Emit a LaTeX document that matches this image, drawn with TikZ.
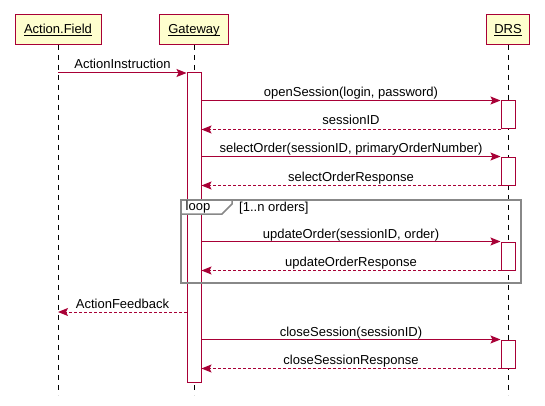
\documentclass[tikz,border=0pt]{standalone}
\usepackage{fontspec}
\setmainfont{Liberation Sans}
\usetikzlibrary{arrows.meta}
\definecolor{pcrim}{HTML}{A80036}
\definecolor{pfill}{HTML}{FEFECE}
\definecolor{pgray}{HTML}{888888}
\begin{document}
\begin{tikzpicture}[x=1pt,y=-1pt,
  font=\fontsize{13}{15}\selectfont,
  partbox/.style={draw=pcrim,fill=pfill,line width=1pt,inner sep=0pt},
  lifeline/.style={draw=black,line width=1pt,dash pattern=on 5pt off 5pt},
  actbox/.style={draw=pcrim,fill=white,line width=1pt,inner sep=0pt},
  msg/.style={draw=pcrim,line width=1pt,-{Stealth[length=10pt,width=8pt,inset=2pt]}},
  ret/.style={msg,dash pattern=on 3pt off 2pt},
  lbl/.style={anchor=base,inner sep=0pt,text=black},
  uline/.style={draw=black,line width=0.9pt},
  frame/.style={draw=pgray,line width=1.5pt}
]
\useasboundingbox (0,0) rectangle (545,406);
% lifelines
\coordinate (afTop) at (58,45); \coordinate (afBot) at (58,395);
\coordinate (gwTop) at (194,45); \coordinate (gwBot) at (194,395);
\coordinate (drTop) at (508,45); \coordinate (drBot) at (508,395);
\draw[lifeline] (afTop) -- (afBot);
\draw[lifeline] (gwTop) -- (gwBot);
\draw[lifeline] (drTop) -- (drBot);
% participants
\node[partbox,minimum width=86pt,minimum height=30pt] (af) at (58,30) {};
\node[lbl] (afl) at (58,34) {Action.Field};
\draw[uline] ([yshift=-1.6pt]afl.base west) -- ([yshift=-1.6pt]afl.base east);
\node[partbox,minimum width=69pt,minimum height=30pt] (gw) at (194,30) {};
\node[lbl] (gwl) at (194,34) {Gateway};
\draw[uline] ([yshift=-1.6pt]gwl.base west) -- ([yshift=-1.6pt]gwl.base east);
\node[partbox,minimum width=43pt,minimum height=30pt] (dr) at (508,30) {};
\node[lbl] (drl) at (508,34) {DRS};
\draw[uline] ([yshift=-1.6pt]drl.base west) -- ([yshift=-1.6pt]drl.base east);
% gateway activation
\node[actbox,minimum width=14pt,minimum height=309pt] (ga) at (194,227.5) {};
% DRS activations
\node[actbox,minimum width=14pt,minimum height=28pt] (d1) at (508,115) {};
\node[actbox,minimum width=14pt,minimum height=28pt] (d2) at (508,171) {};
\node[actbox,minimum width=14pt,minimum height=28pt] (d3) at (508,256) {};
\node[actbox,minimum width=14pt,minimum height=28pt] (d4) at (508,354) {};
% loop frame
\draw[frame] (181,200) rectangle (521,283);
\draw[frame,fill=white] (181,200) -- (232,200) -- (232,204) -- (222,214) -- (181,214) -- cycle;
\node[lbl] (lp) at (198,210) {loop};
\node[lbl,anchor=base west] (lpg) at (239,211) {[1..n orders]};
% messages
\coordinate (m1s) at (58,73);
\draw[msg] (m1s) -- (ga.west |- m1s);
\node[lbl] at (122.5,69) {ActionInstruction};
\draw[msg] (ga.east |- d1.north) -- (d1.north west);
\node[lbl] at (351,97) {openSession(login, password)};
\draw[ret] (d1.south west) -- (ga.east |- d1.south);
\node[lbl] at (351,125) {sessionID};
\draw[msg] (ga.east |- d2.north) -- (d2.north west);
\node[lbl] at (351,153) {selectOrder(sessionID, primaryOrderNumber)};
\draw[ret] (d2.south west) -- (ga.east |- d2.south);
\node[lbl] at (351,181) {selectOrderResponse};
\draw[msg] (ga.east |- d3.north) -- (d3.north west);
\node[lbl] at (351,238) {updateOrder(sessionID, order)};
\draw[ret] (d3.south west) -- (ga.east |- d3.south);
\node[lbl] at (351,266) {updateOrderResponse};
\coordinate (m9e) at (58,312);
\draw[ret] (ga.west |- m9e) -- (m9e);
\node[lbl] at (122.5,308) {ActionFeedback};
\draw[msg] (ga.east |- d4.north) -- (d4.north west);
\node[lbl] at (351,336) {closeSession(sessionID)};
\draw[ret] (d4.south west) -- (ga.east |- d4.south);
\node[lbl] at (351,364) {closeSessionResponse};
\end{tikzpicture}
\end{document}
